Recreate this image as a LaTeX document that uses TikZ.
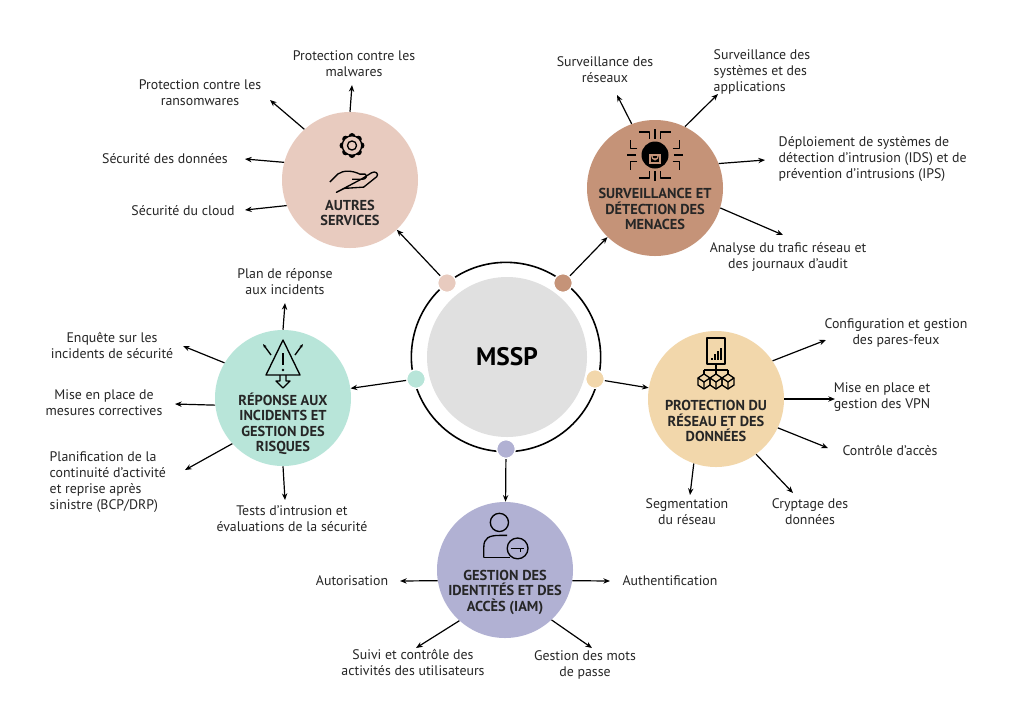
\documentclass[tikz,border=0pt]{standalone}
\usepackage{fontspec}
\setmainfont{PT Sans}
\usetikzlibrary{arrows.meta}
\definecolor{cpink}{HTML}{E8CBBF}
\definecolor{cbrown}{HTML}{C59378}
\definecolor{cmint}{HTML}{B8E5D9}
\definecolor{cpeach}{HTML}{F2D7AB}
\definecolor{clav}{HTML}{B1B1D3}
\definecolor{cgray}{HTML}{E0E0E0}
\begin{document}
\begin{tikzpicture}[x=0.75pt,y=-0.75pt,
  sat/.style={circle,minimum size=102pt,inner sep=0pt},
  head/.style={font=\bfseries\fontsize{10.8}{11.6}\selectfont,align=center,text=black!85},
  lbl/.style={font=\fontsize{10.4}{12}\selectfont,align=center,text=black!85},
  arr/.style={-{Stealth[length=5pt,width=4pt]},line width=0.9pt},
  dotn/.style={circle,minimum size=14pt,inner sep=0pt,draw=white,line width=1pt},
  ico/.style={line width=1pt,line join=round}]
\useasboundingbox (0,0) rectangle (1024,719);
\fill[white] (0,0) rectangle (1024,719);
% centre
\node[circle,minimum size=142pt,draw=black,line width=1.2pt] (ring) at (506,357) {};
\node[circle,fill=cgray,minimum size=120pt] (M) at (507,357) {};
\node[font=\bfseries\fontsize{19}{21}\selectfont] (mt) at (507,357) {MSSP};
\node[dotn,fill=cpink] (dA) at (447,283) {};
\node[dotn,fill=cbrown] (dS) at (563,283) {};
\node[dotn,fill=cmint] (dR) at (416,379) {};
\node[dotn,fill=cpeach] (dP) at (595,379) {};
\node[dotn,fill=clav] (dI) at (506,449) {};
% satellites
\node[sat,fill=cpink] (A) at (350,180) {};
\node[sat,fill=cbrown] (S) at (655,188) {};
\node[sat,fill=cmint] (R) at (283,398) {};
\node[sat,fill=cpeach] (P) at (716,399) {};
\node[sat,fill=clav] (I) at (505,570) {};
\node[head] (At) at (350,213) {AUTRES\\SERVICES};
\node[head] (St) at (655,209) {SURVEILLANCE ET\\DÉTECTION DES\\MENACES};
\node[head] (Rt) at (283,424) {RÉPONSE AUX\\INCIDENTS ET\\GESTION DES\\RISQUES};
\node[head] (Pt) at (716,421) {PROTECTION DU\\RÉSEAU ET DES\\DONNÉES};
\node[head] (It) at (505,592) {GESTION DES\\IDENTITÉS ET DES\\ACCÈS (IAM)};
% icons
\begin{scope}[scale around={1.3:(352,165)}]
\foreach \a in {0,45,...,315} \fill (352,150) ++(\a:7) circle (2.6);
\draw[ico,fill=cpink] (352,150) circle (7.5);
\draw[ico] (352,150) circle (3.5);
\draw[ico] (335,178) -- (341,172) .. controls (345,169) and (352,169) .. (358,172) -- (362,172) .. controls (364,173) and (363,176) .. (360,176) -- (352,176);
\draw[ico] (359,176) -- (367,171) .. controls (370,169) and (373,172) .. (371,174) -- (361,182) -- (346,183) -- (340,186) -- cycle;
\end{scope}
\begin{scope}[scale around={1.35:(655,155)}]
\fill (655,155) circle (10);
\draw[cbrown,line width=1.2pt] (651.5,155) rectangle (658.5,161);
\draw[cbrown,line width=1pt] (652.5,155) arc (180:0:2.5 and 3.5);
\fill[cbrown] (655,158) circle (0.9);
\foreach \s in {-1,1}{
 \draw[ico] (655+\s*4,143) -- (655+\s*4,138) -- (655+\s*12,138);
 \draw[ico] (655+\s*4,167) -- (655+\s*4,172) -- (655+\s*12,172);
 \draw[ico] (655+\s*13,150) -- (655+\s*18,150) -- (655+\s*18,144);
 \draw[ico] (655+\s*13,160) -- (655+\s*18,160) -- (655+\s*18,166);
 \draw[ico] (655+\s*14,155) -- (655+\s*21,155);}
\draw[ico] (655,143) -- (655,136);
\draw[ico] (655,167) -- (655,174);
\end{scope}
\begin{scope}[yshift=1.5pt]
\draw[ico] (283,342) -- (300,377) -- (266,377) -- cycle;
\draw[ico] (283,355) -- (283,367); \fill (283,372) circle (1.3);
\draw[ico,-{Stealth[length=3pt]}] (271,357) -- (263,346);
\draw[ico,-{Stealth[length=3pt]}] (295,357) -- (303,346);
\draw[ico] (280,377) -- (280,383) -- (276,383) -- (283,390) -- (290,383) -- (286,383) -- (286,377);
\end{scope}
\begin{scope}[yshift=3pt]
\draw[ico] (707,342) rectangle (725,368);
\fill (711,362) rectangle (713,364); \fill (714,358) rectangle (716,364); \fill (717,355) rectangle (719,364); \fill (720,352) rectangle (722,364);
\draw[ico] (716,368) -- (716,374) (704,374) -- (728,374) (704,374) -- (704,378) (716,374) -- (716,378) (728,374) -- (728,378);
\foreach \cx in {704,716,728}{\draw[ico] (\cx,378) -- (\cx+6,382) -- (\cx+6,389) -- (\cx,393) -- (\cx-6,389) -- (\cx-6,382) -- cycle; \draw[ico] (\cx-6,382) -- (\cx,386) -- (\cx+6,382) (\cx,386) -- (\cx,393);}
\end{scope}
\begin{scope}[scale around={1.3:(502,538)}]
\draw[ico] (500,526) circle (7);
\draw[ico] (488,553) -- (488,545) .. controls (488,538) and (492,536) .. (500,536) -- (506,536);
\draw[ico] (488,553) -- (508,553);
\draw[ico,fill=clav] (514,546) circle (8);
\draw[ico] (509,546) -- (519,546) (516,546) -- (516,549);
\end{scope}
% connectors from dots
\draw[arr] (dA) -- (A);
\draw[arr] (dS) -- (S);
\draw[arr] (dR) -- (R);
\draw[arr] (dP) -- (P);
\draw[arr] (dI) -- (I);
% labels
\node[lbl] (a1) at (354,64) {Protection contre les\\malwares};
\node[lbl] (a2) at (200,93) {Protection contre les\\ransomwares};
\node[lbl] (a3) at (165,159) {Sécurité des données};
\node[lbl] (a4) at (183,211) {Sécurité du cloud};
\node[lbl] (s1) at (605,70) {Surveillance des\\réseaux};
\node[lbl,align=left,anchor=west] (s2) at (709,72) {Surveillance des\\systèmes et des\\applications};
\node[lbl,align=left,anchor=west] (s3) at (774,159) {Déploiement de systèmes de\\détection d'intrusion (IDS) et de\\prévention d'intrusions (IPS)};
\node[lbl] (s4) at (788,257) {Analyse du trafic réseau et\\des journaux d'audit};
\node[lbl] (r1) at (285,282) {Plan de réponse\\aux incidents};
\node[lbl] (r2) at (112,345) {Enquête sur les\\incidents de sécurité};
\node[lbl] (r3) at (104,403) {Mise en place de\\mesures correctives};
\node[lbl,align=left,anchor=west] (r4) at (45,482) {Planification de la\\continuité d'activité\\et reprise après\\sinistre (BCP/DRP)};
\node[lbl] (r5) at (292,519) {Tests d'intrusion et\\évaluations de la sécurité};
\node[lbl] (p1) at (896,333) {Configuration et gestion\\des pares-feux};
\node[lbl] (p2) at (882,397) {Mise en place et\\gestion des VPN};
\node[lbl] (p3) at (890,450) {Contrôle d'accès};
\node[lbl] (p4) at (687,512) {Segmentation\\du réseau};
\node[lbl] (p5) at (810,512) {Cryptage des\\données};
\node[lbl] (i1) at (352,581) {Autorisation};
\node[lbl] (i2) at (670,581) {Authentification};
\node[lbl] (i3) at (413,662) {Suivi et contrôle des\\activités des utilisateurs};
\node[lbl] (i4) at (585,665) {Gestion des mots\\de passe};
% arrow end points
\coordinate (ea1) at (352,85); \coordinate (ea2) at (270,100);
\coordinate (ea3) at (245,159); \coordinate (ea4) at (245,210);
\coordinate (es1) at (617,95); \coordinate (es2) at (718,94);
\coordinate (es3) at (765,160); \coordinate (es4) at (783,235);
\coordinate (er1) at (285,303); \coordinate (er2) at (183,346);
\coordinate (er3) at (175,404); \coordinate (er4) at (185,470);
\coordinate (er5) at (285,500);
\coordinate (ep1) at (826,340); \coordinate (ep2) at (835,399);
\coordinate (ep3) at (828,448); \coordinate (ep4) at (690,495);
\coordinate (ep5) at (793,493);
\coordinate (ei1) at (400,581); \coordinate (ei2) at (610,581);
\coordinate (ei3) at (416,648); \coordinate (ei4) at (592,648);
\draw[arr] (A.90) -- (ea1); \draw[arr] (A.132) -- (ea2);
\draw[arr] (A.165) -- (ea3); \draw[arr] (A.202) -- (ea4);
\draw[arr] (S.110) -- (es1); \draw[arr] (S.64) -- (es2);
\draw[arr] (S.21) -- (es3); \draw[arr] (S.-17) -- (es4);
\draw[arr] (R.90) -- (er1); \draw[arr] (R.149) -- (er2);
\draw[arr] (R.186) -- (er3); \draw[arr] (R.222) -- (er4);
\draw[arr] (R.270) -- (er5);
\draw[arr] (P.34) -- (ep1); \draw[arr] (P.0) -- (ep2);
\draw[arr] (P.-25) -- (ep3); \draw[arr] (P.251) -- (ep4);
\draw[arr] (P.306) -- (ep5);
\draw[arr] (I.189) -- (ei1); \draw[arr] (I.-9) -- (ei2);
\draw[arr] (I.228) -- (ei3); \draw[arr] (I.313) -- (ei4);
\end{tikzpicture}
\end{document}
